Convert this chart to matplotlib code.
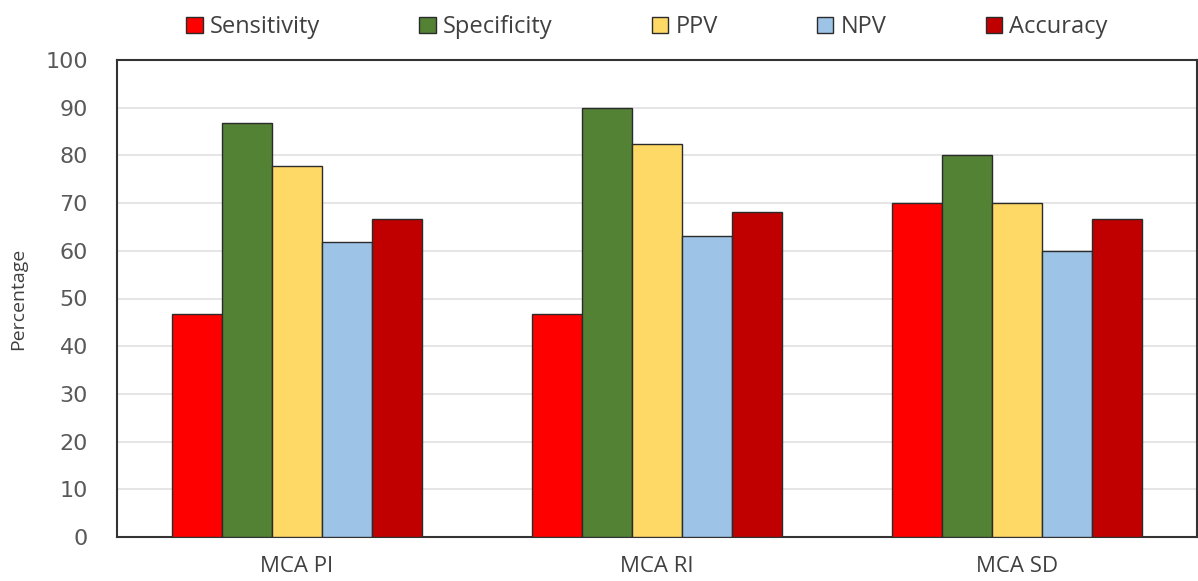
import matplotlib
matplotlib.use('Agg')
import matplotlib.pyplot as plt
import numpy as np

groups = ["MCA PI", "MCA RI", "MCA SD"]
metrics = ["Sensitivity", "Specificity", "PPV", "NPV", "Accuracy"]
sensitivity = [46.7, 46.7, 70.0]
specificity = [86.7, 90.0, 80.0]
ppv = [77.8, 82.4, 70.0]
npv = [61.9, 63.0, 60.0]
accuracy = [66.7, 68.2, 66.7]
colors = ["#FF0000", "#548235", "#FFD966", "#9DC3E6", "#C00000"]

series = [sensitivity, specificity, ppv, npv, accuracy]

fig = plt.figure(figsize=(11.98, 5.81), dpi=100)
ax = fig.add_axes([117/1198, 1-537/581, (1197-117)/1198, (537-60)/581])

x = np.arange(len(groups))
w = 50/360
for i, (vals, name, c) in enumerate(zip(series, metrics, colors)):
    ax.bar(x + (i-2)*w, vals, w, color=c, edgecolor="#2b2b2b", linewidth=1.0,
           label=name, zorder=3)

ax.set_xlim(-0.5, 2.5)
ax.set_ylim(0, 100)
ax.set_yticks(range(0, 101, 10))
ax.set_xticks(x)
ax.set_xticklabels(groups, fontsize=16, color="#404040", family="Open Sans")
ax.tick_params(axis='y', labelsize=16, colors="#595959", length=0, pad=21)
ax.tick_params(axis='x', length=0, pad=14)
for lbl in ax.get_yticklabels():
    lbl.set_family("DejaVu Sans")
ax.grid(axis='y', color="#e0e0e0", linewidth=1.2, zorder=0)
for s in ax.spines.values():
    s.set_color("#333333")
    s.set_linewidth(1.5)
ax.set_ylabel("Percentage", fontsize=14, color="#404040", family="Open Sans")
ax.yaxis.set_label_coords(-90/1080, 0.5)

fig.legend(loc='upper center', bbox_to_anchor=(0.54, 1.01), ncol=5, frameon=False,
           prop={'family': 'Open Sans', 'size': 17}, handlelength=0.7,
           handleheight=0.7, handletextpad=0.3, columnspacing=4.2,
           labelcolor="#404040")

fig.savefig("out.png", dpi=100)
